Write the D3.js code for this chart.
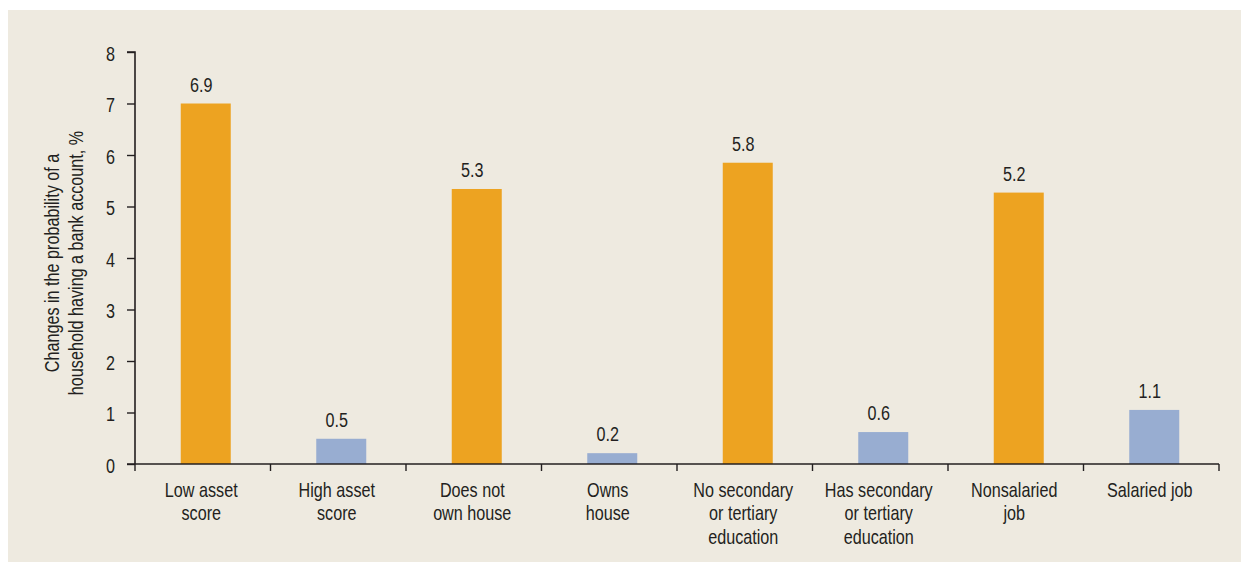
<!DOCTYPE html>
<html>
<head>
<meta charset="utf-8">
<script src="https://cdn.jsdelivr.net/npm/d3@7/dist/d3.min.js"></script>
<style>
  html, body { margin: 0; padding: 0; background: #ffffff; }
  svg text { font-family: "Liberation Sans", Arial, sans-serif; fill: #231f20; }
</style>
</head>
<body>
<svg id="chart" width="1241" height="562"></svg>
<script>
// ---- data ----
const categories = [
  ["Low asset", "score"],
  ["High asset", "score"],
  ["Does not", "own house"],
  ["Owns", "house"],
  ["No secondary", "or tertiary", "education"],
  ["Has secondary", "or tertiary", "education"],
  ["Nonsalaried", "job"],
  ["Salaried job"]
];
const values = [7.0, 0.49, 5.34, 0.21, 5.85, 0.62, 5.27, 1.05];
const valueLabels = ["6.9", "0.5", "5.3", "0.2", "5.8", "0.6", "5.2", "1.1"];
const groupType = ["low", "high", "low", "high", "low", "high", "low", "high"];
const yTicks = [0, 1, 2, 3, 4, 5, 6, 7, 8];
const yTitle = ["Changes in the probability of a", "household having a bank account, %"];

// ---- layout ----
const svg = d3.select("#chart");
const W = 1241, H = 562;
const FS = 19.5;      // font size
const SX = 0.83;      // horizontal condensing (narrow face)
const INK = "#231f20";
svg.append("rect").attr("x", 8).attr("y", 10).attr("width", W - 8).attr("height", H - 10).attr("fill", "#eeeae0");

const mLeft = 135, mRight = 1219, mTop = 52, mBottom = 464;
const keys = categories.map((d, i) => i);
const x = d3.scaleBand().domain(keys).range([mLeft, mRight]).padding(0);
const y = d3.scaleLinear().domain([0, 8]).range([mBottom, mTop]);
const color = d3.scaleOrdinal().domain(["low", "high"]).range(["#eda321", "#98add1"]);
const barW = 50;

// bars
svg.append("g").selectAll("rect").data(values).join("rect")
  .attr("x", (d, i) => x(i) + x.bandwidth() / 2 - 22)
  .attr("y", d => y(d))
  .attr("width", barW)
  .attr("height", d => y(0) - y(d))
  .attr("fill", (d, i) => color(groupType[i]));

// value labels
svg.append("g").selectAll("text").data(values).join("text")
  .attr("transform", (d, i) => `translate(${x(i) + x.bandwidth() / 2 - 1.5},${y(d) - 12}) scale(${SX},1)`)
  .attr("text-anchor", "middle")
  .attr("font-size", FS)
  .text((d, i) => valueLabels[i]);

// y axis
const yAxis = d3.axisLeft(y).tickValues(yTicks).tickSize(8).tickPadding(12).tickFormat(d3.format("d"));
const gy = svg.append("g").attr("transform", `translate(${mLeft},0)`).call(yAxis);
gy.select(".domain").attr("stroke", INK).attr("stroke-width", 1.6).attr("d", `M-8,${mTop}H0V${mBottom}`);
gy.selectAll(".tick line").attr("stroke", INK).attr("stroke-width", 1.4);
gy.selectAll(".tick text")
  .attr("x", null).attr("dy", null)
  .attr("transform", `translate(-20,8) scale(${SX},1)`)
  .attr("font-size", FS)
  .style("font-family", '"Liberation Sans", Arial, sans-serif')
  .attr("fill", INK);

// x axis
const xTickPos = d3.range(0, 9).map(i => mLeft + i * x.bandwidth());
const gx = svg.append("g");
gx.append("line").attr("x1", mLeft - 8).attr("x2", mRight).attr("y1", mBottom).attr("y2", mBottom)
  .attr("stroke", INK).attr("stroke-width", 1.6);
gx.selectAll("line.tk").data(xTickPos).join("line").attr("class", "tk")
  .attr("x1", d => d).attr("x2", d => d).attr("y1", mBottom).attr("y2", mBottom + 7)
  .attr("stroke", INK).attr("stroke-width", 1.4);

// category labels
const cl = svg.append("g").selectAll("text").data(categories).join("text")
  .attr("text-anchor", "middle")
  .attr("font-size", FS)
  .attr("transform", (d, i) => `translate(${x(i) + x.bandwidth() / 2 - 1.5},497) scale(${SX},1)`);
cl.selectAll("tspan").data(d => d).join("tspan")
  .attr("x", 0)
  .attr("dy", (d, j) => j === 0 ? 0 : 23.5)
  .text(d => d);

// y title
const yt = svg.append("text")
  .attr("transform", `translate(59,263) rotate(-90) scale(${SX},1)`)
  .attr("text-anchor", "middle")
  .attr("font-size", FS);
yt.selectAll("tspan").data(yTitle).join("tspan")
  .attr("x", 0).attr("dy", (d, j) => j === 0 ? 0 : 24).text(d => d);
</script>
</body>
</html>
